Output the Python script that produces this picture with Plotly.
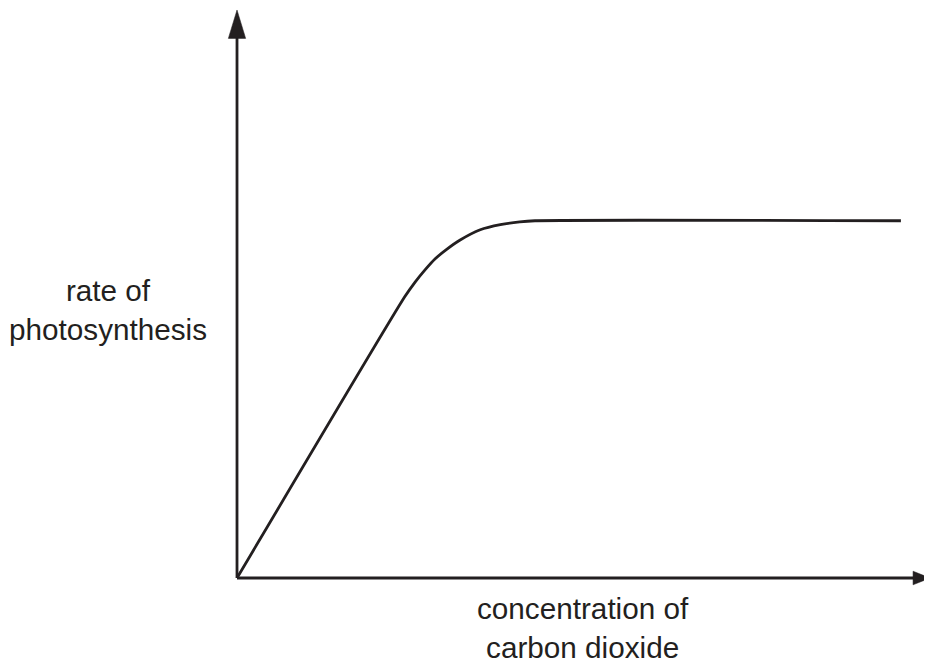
import plotly.graph_objects as go

# Curve (arbitrary units)
co2_concentration = [0.0, 2.42, 2.57, 2.71, 2.86, 3.03, 3.22, 3.51, 3.80, 4.08, 4.30, 9.58]
photosynthesis_rate = [0.0, 4.95, 5.21, 5.42, 5.62, 5.79, 5.95, 6.13, 6.22, 6.27, 6.29, 6.29]

x_label = "concentration of<br>carbon dioxide"
y_label = "rate of<br>photosynthesis"

INK = "#231f20"
FONT = dict(family="Liberation Sans, Arial, sans-serif", size=29.7, color=INK)

fig = go.Figure()
fig.add_trace(go.Scatter(
    x=co2_concentration, y=photosynthesis_rate, mode="lines",
    line=dict(color=INK, width=2.8, shape="spline", smoothing=0.6),
    hoverinfo="skip", showlegend=False,
))

XMAX, YMAX = 10.0, 10.0
shapes = [
    dict(type="line", xref="x", yref="y", x0=0, y0=0, x1=9.8, y1=0,
         line=dict(color=INK, width=2.8)),
    dict(type="line", xref="x", yref="y", x0=0, y0=0, x1=0, y1=9.6,
         line=dict(color=INK, width=2.8)),
    dict(type="path", xref="x", yref="y",
         path=f"M 9.755 -0.12 L {XMAX} 0 L 9.755 0.12 Z",
         fillcolor=INK, line=dict(color=INK, width=0.5)),
    dict(type="path", xref="x", yref="y",
         path=f"M -0.125 9.50 L 0 {YMAX} L 0.125 9.50 Z",
         fillcolor=INK, line=dict(color=INK, width=0.5)),
]

annotations = [
    dict(x=4.99, y=-0.88, xref="x", yref="y", text=x_label, showarrow=False,
         xanchor="center", yanchor="middle", align="center", font=FONT),
    dict(x=-1.86, y=4.72, xref="x", yref="y", text=y_label, showarrow=False,
         xanchor="center", yanchor="middle", align="center", font=FONT),
]

fig.update_layout(
    width=932, height=668,
    margin=dict(l=0, r=0, t=0, b=0, pad=0),
    paper_bgcolor="white", plot_bgcolor="white",
    xaxis=dict(range=[-3.3045, 10.144], visible=False, fixedrange=True),
    yaxis=dict(range=[-1.725, 10.035], visible=False, fixedrange=True),
    shapes=shapes, annotations=annotations,
    showlegend=False,
)

fig.write_html("out.html", config={"displayModeBar": False})
